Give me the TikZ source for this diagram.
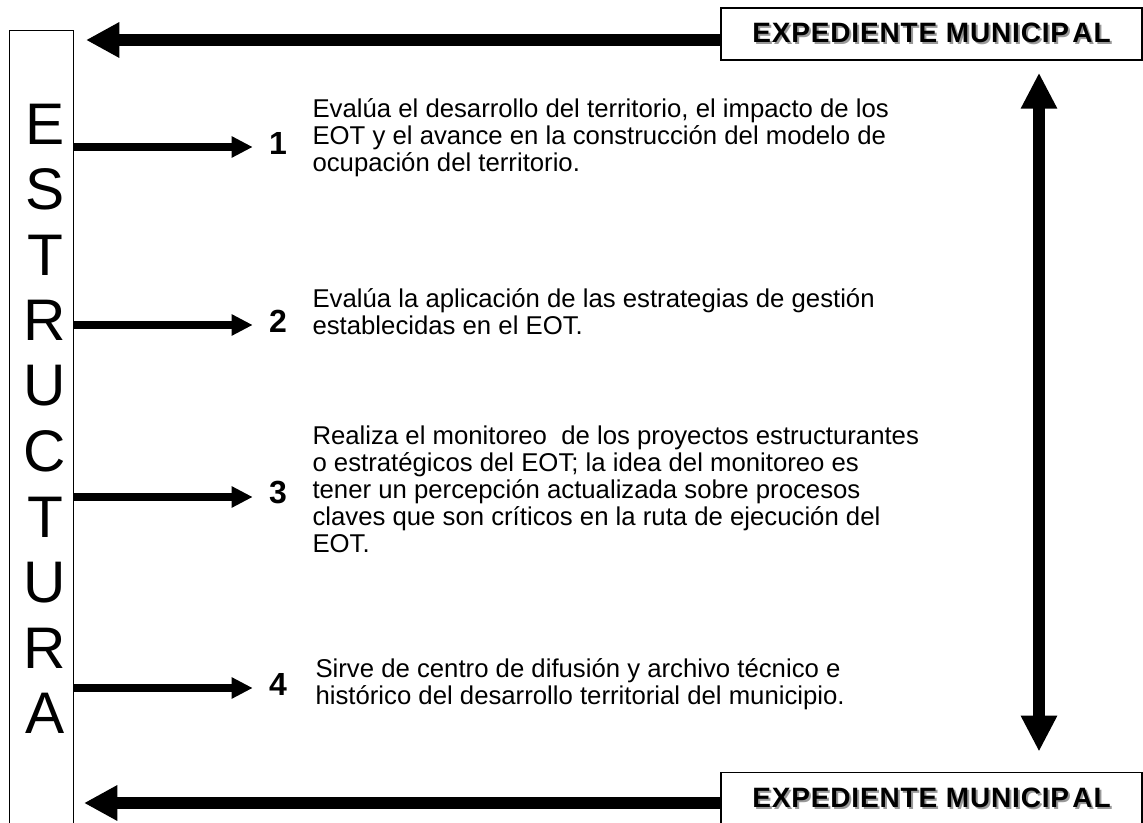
\documentclass[tikz,border=0pt]{standalone}
\usepackage{fontspec}
\setmainfont{Liberation Sans}
\usetikzlibrary{arrows.meta,positioning}

% gray offset copy under the header text
\newcommand{\sombreado}[1]{\makebox[0pt][l]{\hspace{1.5pt}\raisebox{-1.5pt}{\color{black!40}#1}}#1}
\newcommand{\apretado}{\lineskiplimit-20pt\relax}

\tikzset{
  marco/.style={draw, line width=1.1pt, minimum width=315.75pt, minimum height=39pt, inner sep=0pt,
    font={\fontsize{21}{24}\selectfont\bfseries\addfontfeature{LetterSpace=3}}},
  letra/.style={inner sep=0pt, font=\fontsize{44}{44}\selectfont},
  numero/.style={inner sep=0pt, minimum width=37.5pt, font=\fontsize{24}{26}\selectfont\bfseries},
  texto/.style={inner sep=0pt, align=left, anchor=west,
    font={\fontsize{19.3}{20.25}\selectfont\apretado}},
  flecha/.style={line width=6pt, -{Triangle[length=15.75pt,width=15pt]}},
  flechagrande/.style={line width=9pt, -{Triangle[length=25pt,width=25pt]}},
  doble/.style={line width=9pt, {Triangle[length=27pt,width=25.5pt]}-{Triangle[length=27pt,width=25.5pt]}}
}

\begin{document}
\begin{tikzpicture}[x=0.75pt, y=-0.75pt]
  \useasboundingbox (0,0) rectangle (1143,823);
  \clip (0,0) rectangle (1143,823);

  % vertical column
  \node[draw, line width=1.1pt, minimum width=48pt, minimum height=622pt, anchor=north west, inner sep=0pt] (estr) at (9,30) {};
  \foreach \l [count=\i] in {E,S,T,R,U,C,T,U,R,A}
    \node[letra] (l\i) at (45, {124+65.5*(\i-1)}) {\l};

  % header boxes
  \node[marco] (exp1) at (931.5,34) {\sombreado{EXPEDIENTE MUNICIP\hspace{0.12em}AL}};
  \node[marco, minimum height=40pt] (exp2) at (931.5,799) {\sombreado{EXPEDIENTE MUNICIP\hspace{0.12em}AL}};
  \coordinate (puntaA) at (86,40);
  \coordinate (puntaB) at (84,803);
  \coordinate (eje) at (1039,400);

  % numbered items
  \node[numero] (n1) at (278,143) {1};
  \node[numero] (n2) at (278,321) {2};
  \node[numero] (n3) at (278,493) {3};
  \node[numero] (n4) at (278,684) {4};

  \node[texto, right=6.75pt of n1, yshift=3.75pt] (t1) {Evalúa el desarrollo del territorio, el impacto de los\\
    EOT y el avance en la construcción del modelo de\\
    ocupación del territorio.};
  \node[texto, right=6.75pt of n2, yshift=6.75pt] (t2) {Evalúa la aplicación de las estrategias de gestión\\
    establecidas en el EOT.};
  \node[texto, right=6.75pt of n3, yshift=3pt] (t3) {Realiza el monitoreo~ de los proyectos estructurantes\\
    o estratégicos del EOT; la idea del monitoreo es\\
    tener un percepción actualizada sobre procesos\\
    claves que son críticos en la ruta de ejecución del\\
    EOT.};
  \node[texto, right=9pt of n4] (t4) {Sirve de centro de difusión y archivo técnico e\\
    histórico del desarrollo territorial del municipio.};

  % connectors
  \foreach \i in {1,...,4}{
    \coordinate (p\i) at ([yshift=-3pt]n\i.west);
    \draw[flecha] (estr.east |- p\i) -- (p\i);
  }
  \draw[flechagrande] (exp1.west |- puntaA) -- (puntaA);
  \draw[flechagrande] (exp2.west |- puntaB) -- (puntaB);
  \draw[doble, shorten <=9pt, shorten >=15pt] (exp1.south -| eje) -- (exp2.north -| eje);
\end{tikzpicture}
\end{document}
